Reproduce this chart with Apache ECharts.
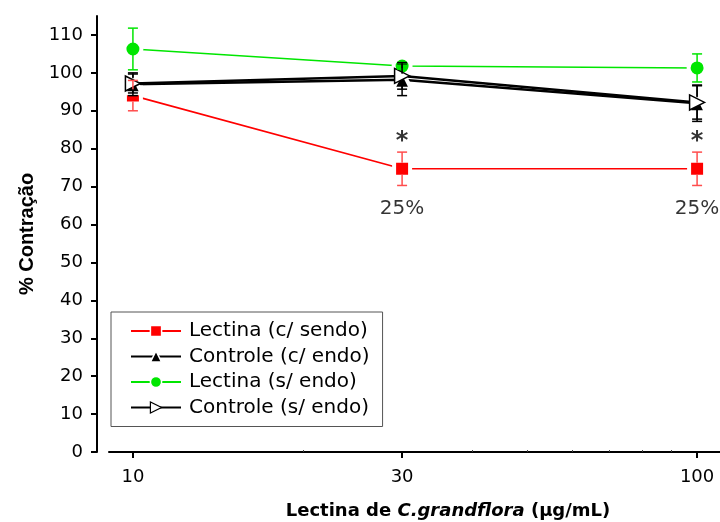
<!DOCTYPE html>
<html>
<head>
<meta charset="utf-8">
<script src="https://cdn.jsdelivr.net/npm/echarts@6/dist/echarts.min.js"></script>
<style>
  html, body { margin: 0; padding: 0; background: #fff; }
  #chart { width: 720px; height: 522px; }
</style>
</head>
<body>
<div id="chart"></div>
<script>
// Lectin concentration (µg/mL) on a log axis
const doses = [10, 30, 100];
const xTickLabels = [10, 30, 100];
const xMinorTicks = [20, 40, 50, 60, 70, 80, 90];
const yTickLabels = [0, 10, 20, 30, 40, 50, 60, 70, 80, 90, 100, 110];

// % contraction, mean and error
const lectinaComEndo = [94.0, 74.7, 74.7];
const lectinaComEndoErr = [4.0, 4.4, 4.4];
const controleComEndo = [97.0, 98.2, 92.0];
const controleComEndoErr = [3.0, 4.2, 4.8];
const lectinaSemEndo = [106.3, 101.8, 101.3];
const lectinaSemEndoErr = [5.5, 0.8, 3.7];
const controleSemEndo = [97.2, 99.2, 92.2];
const controleSemEndoErr = [2.5, 3.5, 4.4];

// significance marks over the lectin (c/ endo) points
const marked = [30, 100];
const starLevel = [81.8, 81.8];
const reductionLevel = [64.2, 64.2];
const reductionText = ['25%', '25%'];

const names = ['Lectina (c/ sendo)', 'Controle (c/ endo)', 'Lectina (s/ endo)', 'Controle (s/ endo)'];
const RED = '#ff0000', GREEN = '#00e600', BLACK = '#000000';

function pairs(ys) { return doses.map((d, i) => [d, ys[i]]); }

// vertical error bars with caps; the part hidden behind the marker is skipped
function errorBars(ys, errs, color) {
  return {
    type: 'custom',
    silent: true,
    z: 5,
    data: doses.map((d, i) => [d, ys[i], ys[i] - errs[i], ys[i] + errs[i]]),
    encode: { x: 0, y: [2, 3] },
    renderItem(params, api) {
      const x = api.value(0);
      const mid = api.coord([x, api.value(1)]);
      const lo = api.coord([x, api.value(2)]);
      const hi = api.coord([x, api.value(3)]);
      const w = 5, gap = 6;
      const style = { stroke: color, lineWidth: 1.5 };
      const kids = [
        { type: 'line', shape: { x1: hi[0] - w, y1: hi[1], x2: hi[0] + w, y2: hi[1] }, style },
        { type: 'line', shape: { x1: lo[0] - w, y1: lo[1], x2: lo[0] + w, y2: lo[1] }, style }
      ];
      if (mid[1] - hi[1] > gap) kids.push({ type: 'line', shape: { x1: hi[0], y1: hi[1], x2: hi[0], y2: mid[1] - gap }, style });
      if (lo[1] - mid[1] > gap) kids.push({ type: 'line', shape: { x1: lo[0], y1: mid[1] + gap, x2: lo[0], y2: lo[1] }, style });
      return { type: 'group', children: kids };
    }
  };
}

function lineSeries(name, ys, color, symbol, size, width, extra) {
  return Object.assign({
    type: 'line',
    name,
    data: pairs(ys),
    symbol,
    symbolSize: size,
    showAllSymbol: true,
    z: 3,
    lineStyle: { color, width },
    itemStyle: { color, borderColor: '#fff', borderWidth: 4 },
    emphasis: { disabled: true },
    animation: false
  }, extra || {});
}

function textMarks(levels, fmt, font) {
  return {
    type: 'scatter',
    silent: true,
    symbolSize: 1,
    itemStyle: { color: 'rgba(0,0,0,0)' },
    z: 6,
    data: marked.map((d, i) => [d, levels[i]]),
    label: Object.assign({ show: true, position: 'inside', formatter: fmt, color: '#000' }, font)
  };
}

const chart = echarts.init(document.getElementById('chart'), null, { renderer: 'canvas' });

chart.setOption({
  backgroundColor: '#fff',
  animation: false,
  grid: { left: 109, right: 0, top: 16, bottom: 70, containLabel: false, outerBoundsMode: 'none' },
  xAxis: [{
    type: 'log',
    logBase: 10,
    min: 9.07,
    max: 109.8,
    name: '{b|Lectina de }{i|C.grandflora}{b| (µg/mL)}',
    nameLocation: 'middle',
    nameGap: 50,
    nameTextStyle: {
      padding: [0, 0, 0, 67],
      rich: {
        b: { fontFamily: 'DejaVu Sans', fontWeight: 'bold', fontSize: 18, color: '#000' },
        i: { fontFamily: 'DejaVu Sans', fontWeight: 'bold', fontStyle: 'italic', fontSize: 18, color: '#000' }
      }
    },
    axisLine: { onZero: false, lineStyle: { color: '#000', width: 2 } },
    axisTick: { show: true, length: 6, lineStyle: { color: '#000', width: 2 }, customValues: xTickLabels },
    axisLabel: { customValues: xTickLabels, margin: 16, fontFamily: 'DejaVu Sans', fontSize: 18, color: '#000' },
    splitLine: { show: false },
    minorTick: { show: false }
  }, {
    type: 'log',
    logBase: 10,
    min: 9.07,
    max: 109.8,
    position: 'bottom',
    axisLine: { show: false },
    axisTick: { show: true, inside: true, length: 2, lineStyle: { color: '#444', width: 1 }, customValues: xMinorTicks },
    axisLabel: { show: false },
    splitLine: { show: false }
  }],
  yAxis: {
    type: 'value',
    min: 0,
    max: 115,
    interval: 10,
    offset: 12,
    name: '% Contração',
    nameLocation: 'middle',
    nameRotate: 90,
    nameGap: 60,
    nameTextStyle: { fontFamily: 'Liberation Sans', fontWeight: 'bold', fontSize: 20, color: '#000' },
    axisLine: { show: true, lineStyle: { color: '#000', width: 2 } },
    axisTick: { show: true, length: 6, lineStyle: { color: '#000', width: 2 }, customValues: yTickLabels },
    axisLabel: { customValues: yTickLabels, margin: 14, fontFamily: 'DejaVu Sans', fontSize: 18, color: '#000' },
    splitLine: { show: false }
  },
  legend: {
    orient: 'vertical',
    left: 111,
    top: 312,
    data: names.map((n, i) => ({
      name: n,
      itemStyle: i === 3 ? { borderWidth: 1.2 } : { borderWidth: 1.5 }
    })),
    itemWidth: 50,
    itemHeight: 14,
    itemGap: 3.5,
    padding: [8, 13, 8, 19],
    borderColor: '#555',
    borderWidth: 1,
    selectedMode: false,
    textStyle: { fontFamily: 'DejaVu Sans', fontSize: 20, lineHeight: 22, color: '#000', padding: [0, 0, 0, 3] }
  },
  series: [
    lineSeries(names[0], lectinaComEndo, RED, 'rect', 16, 1.6),
    lineSeries(names[1], controleComEndo, BLACK, 'triangle', 18, 2.5),
    lineSeries(names[2], lectinaSemEndo, GREEN, 'circle', 17, 1.6),
    lineSeries(names[3], controleSemEndo, BLACK, 'triangle', 15, 2.5, {
      symbolRotate: -90,
      itemStyle: { color: '#fff', borderColor: BLACK, borderWidth: 1.5 }
    }),
    errorBars(lectinaComEndo, lectinaComEndoErr, '#ff4d4d'),
    errorBars(controleComEndo, controleComEndoErr, BLACK),
    errorBars(lectinaSemEndo, lectinaSemEndoErr, GREEN),
    errorBars(controleSemEndo, controleSemEndoErr, BLACK),
    textMarks(starLevel, '*', { fontFamily: 'DejaVu Sans', fontWeight: 'bold', fontSize: 24 }),
    textMarks(reductionLevel, p => reductionText[p.dataIndex], { fontFamily: 'DejaVu Sans', fontSize: 20 })
  ]
});
</script>
</body>
</html>
